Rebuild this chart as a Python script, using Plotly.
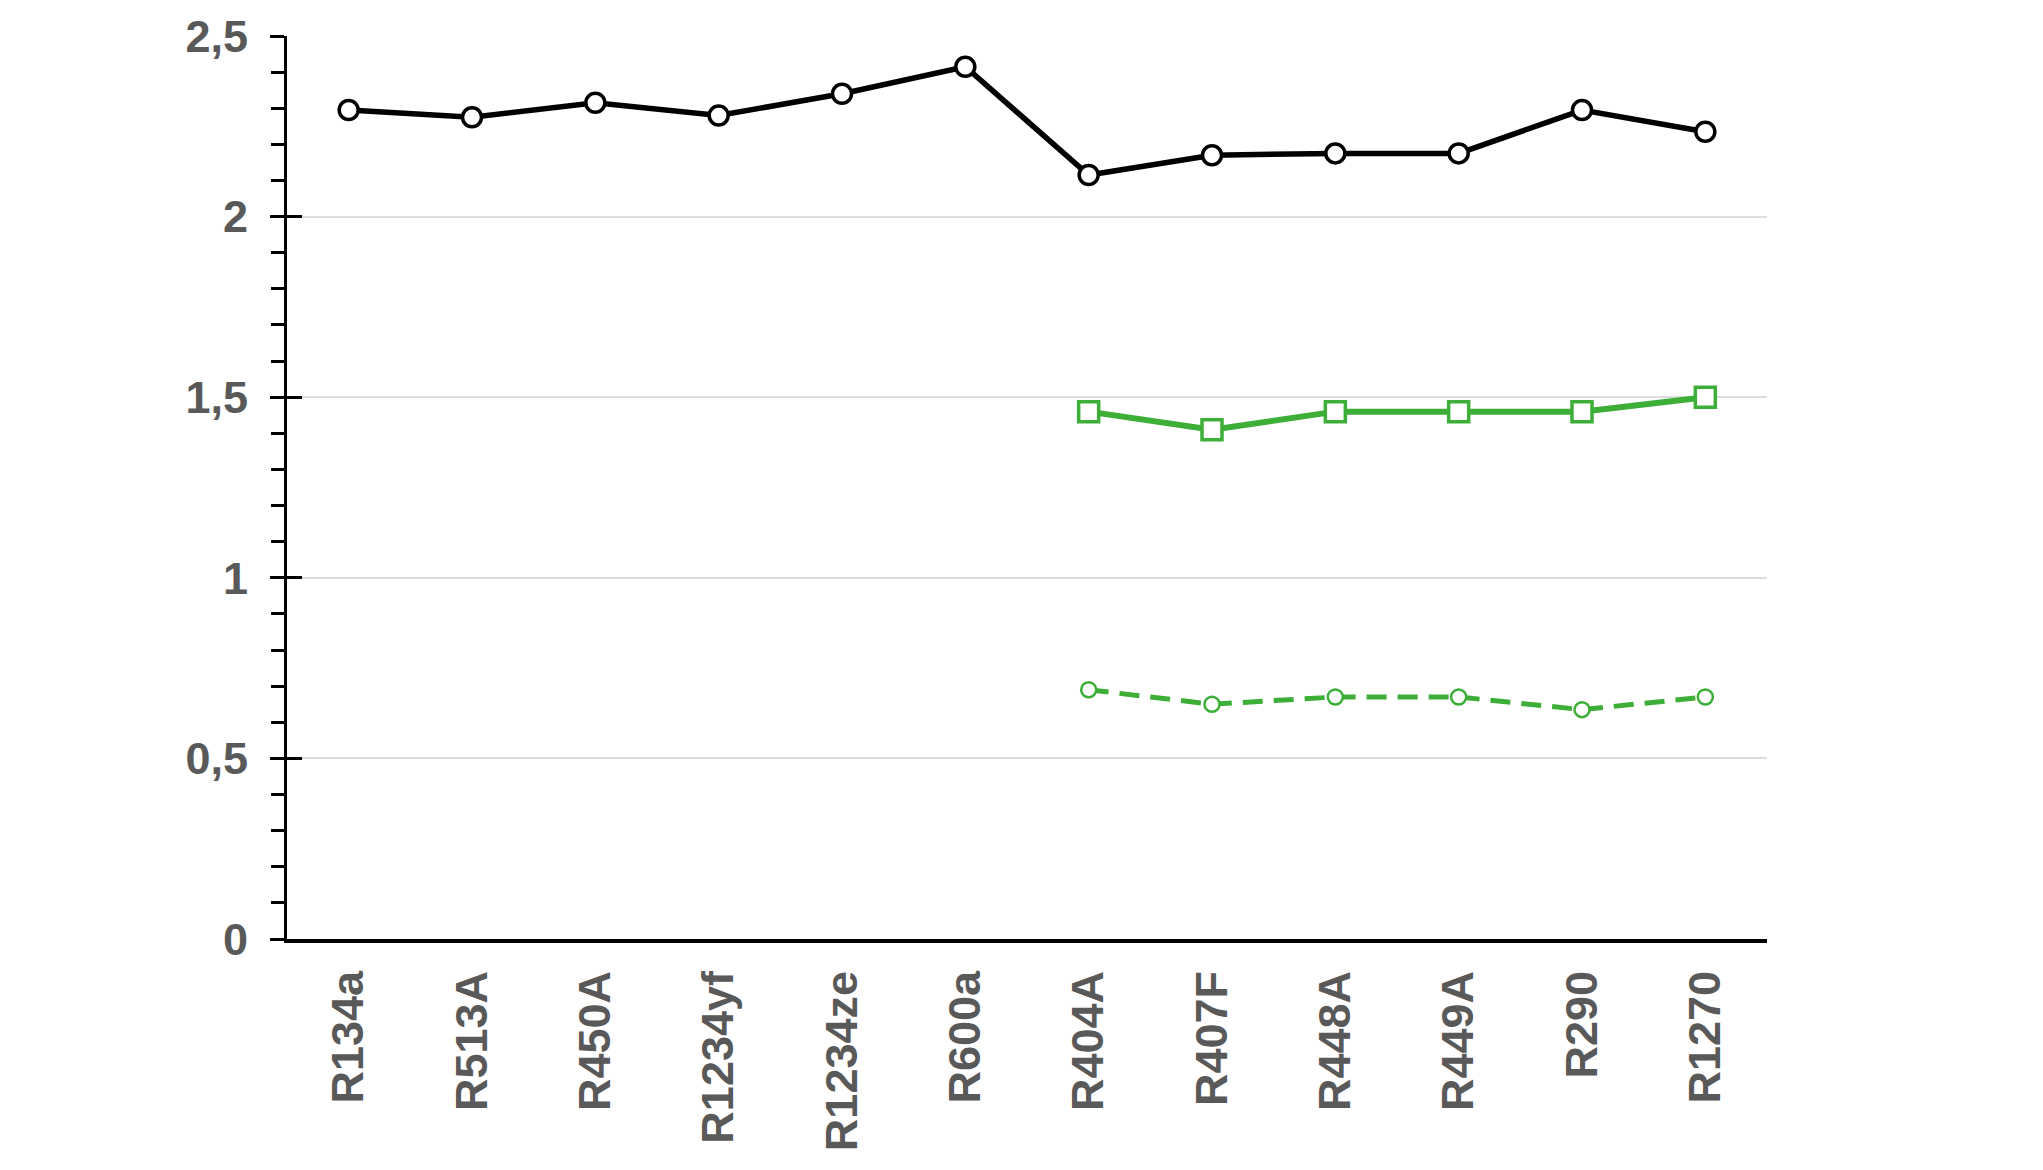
import plotly.graph_objects as go

categories = ["R134a", "R513A", "R450A", "R1234yf", "R1234ze", "R600a",
              "R404A", "R407F", "R448A", "R449A", "R290", "R1270"]
series_black = [2.295, 2.275, 2.315, 2.28, 2.34, 2.415, 2.115, 2.17, 2.175, 2.175, 2.295, 2.235]
series_green = [None, None, None, None, None, None, 1.46, 1.41, 1.46, 1.46, 1.46, 1.50]
series_green_dash = [None, None, None, None, None, None, 0.69, 0.65, 0.67, 0.67, 0.635, 0.67]
y_tickvals = [0, 0.5, 1, 1.5, 2, 2.5]
y_ticktext = ["0", "0,5", "1", "1,5", "2", "2,5"]

GREEN = "#3DAE37"
FONT = "Liberation Sans"

fig = go.Figure()
fig.add_trace(go.Scatter(
    x=categories, y=series_black, mode="lines+markers",
    line=dict(color="black", width=5.5),
    marker=dict(symbol="circle", size=19, color="white", line=dict(color="black", width=3.5)),
    showlegend=False))
fig.add_trace(go.Scatter(
    x=categories, y=series_green, mode="lines+markers",
    line=dict(color=GREEN, width=6),
    marker=dict(symbol="square", size=20, color="white", line=dict(color=GREEN, width=3.5)),
    showlegend=False))
fig.add_trace(go.Scatter(
    x=categories, y=series_green_dash, mode="lines+markers",
    line=dict(color=GREEN, width=5, dash="20px,11px"),
    marker=dict(symbol="circle", size=15, color="white", line=dict(color=GREEN, width=2.5)),
    showlegend=False))

fig.update_layout(
    width=2035, height=1162,
    margin=dict(l=279, r=276, t=28, b=231, autoexpand=False),
    paper_bgcolor="white", plot_bgcolor="white",
    font=dict(family=FONT, color="#595959", size=44),
    xaxis=dict(
        type="category", categoryorder="array", categoryarray=categories,
        range=[-0.5, 11.5], tickangle=-90, showgrid=False,
        showline=True, linecolor="black", linewidth=4, ticks="",
        tickfont=dict(family=FONT, size=45, color="#595959", weight="bold"),
        ticklabelstandoff=10, zeroline=False,
    ),
    yaxis=dict(
        range=[0, 2.5], tickvals=y_tickvals, ticktext=y_ticktext,
        showgrid=True, gridcolor="#DDDDDD", gridwidth=2,
        showline=True, linecolor="black", linewidth=3,
        ticks="outside", ticklen=14, tickwidth=3, tickcolor="black",
        minor=dict(ticks="outside", ticklen=13, tickwidth=3, tickcolor="black",
                   dtick=0.1, showgrid=False),
        tickfont=dict(family=FONT, size=45, color="#595959", weight="bold"),
        ticklabelstandoff=13, zeroline=False,
    ),
    yaxis2=dict(
        overlaying="y", side="left", range=[0, 2.5], tickvals=y_tickvals,
        ticktext=["" for _ in y_ticktext], showgrid=False, showline=False,
        ticks="inside", ticklen=15, tickwidth=3, tickcolor="black",
        zeroline=False,
    ),
)
# invisible trace to activate the overlay axis
fig.add_trace(go.Scatter(x=[categories[0]], y=[None], yaxis="y2", showlegend=False,
                         hoverinfo="skip"))

fig.write_html("out.html")
